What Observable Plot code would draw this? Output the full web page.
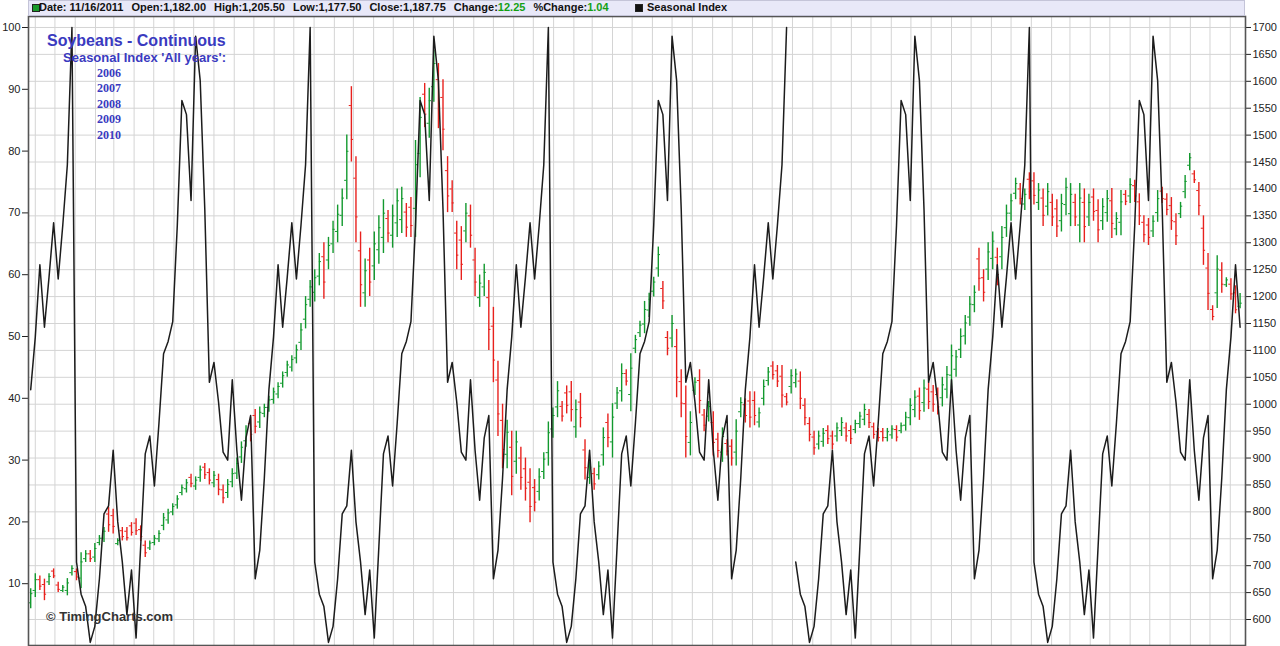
<!DOCTYPE html>
<html>
<head>
<meta charset="utf-8">
<script src="https://cdn.jsdelivr.net/npm/d3@7"></script>
<script src="https://cdn.jsdelivr.net/npm/@observablehq/plot@0.6"></script>
<style>
  body { margin: 0; background: #fff; }
  #wrap { position: relative; width: 1280px; height: 646px; overflow: hidden; font-family: "Liberation Sans", Arial, sans-serif; }
  #wrap svg { position: absolute; left: 0; top: 0; }
  #hdr { position: absolute; left: 28px; top: 0; width: 1217px; height: 16px; background: #e8e8f8; box-sizing: border-box; border: 1px solid #c4c4d8; z-index: 5; }
  #hline { position: absolute; left: 39px; top: 0; height: 15px; display: flex; z-index: 6; }
  #hline span.item { font-size: 11px; font-weight: bold; line-height: 15px; color: #111; white-space: pre; margin-right: 8px; }
  .h { position: absolute; top: 0; font-size: 11px; font-weight: bold; line-height: 15px; color: #111; white-space: pre; z-index: 6; }
  .sq { position: absolute; top: 4px; width: 6px; height: 6px; border: 1px solid #222; z-index: 6; }
  .t { position: absolute; white-space: pre; z-index: 6; }
</style>
</head>
<body>
<div id="wrap"></div>
<script>
// ---- Data (weekly bars, Soybeans continuous) ----
const lastBarDate = "2011-11-16";

const low = [
  620,641,654,635,663,676,650,650,644,681,
  672,657,706,706,706,737,743,762,759,737,
  746,746,755,756,745,715,728,737,743,765,
  777,793,805,830,835,845,840,855,860,850,
  845,830,815,825,845,860,890,920,930,945,
  955,975,985,1000,1010,1030,1050,1060,1075,1100,
  1140,1180,1190,1220,1195,1250,1280,1300,1330,1380,
  1450,1300,1180,1180,1200,1230,1260,1280,1300,1290,
  1310,1317,1310,1310,1310,1421,1514,1494,1561,1512,
  1471,1356,1356,1250,1230,1300,1290,1200,1180,1200,
  1100,1040,940,880,880,830,870,840,820,780,
  800,820,860,885,937,975,967,982,967,937,
  956,859,851,840,859,885,919,900,990,1004,
  1034,986,1094,1124,1131,1161,1199,1236,1176,1090,
  1105,1012,975,900,904,1016,982,949,967,904,
  900,892,904,885,885,975,965,956,960,956,
  997,1034,1045,1031,993,997,1019,1030,990,960,
  930,905,915,920,925,915,930,940,930,925,
  945,955,960,955,935,930,930,930,935,930,
  945,950,960,975,970,985,990,985,980,995,
  1010,1030,1050,1085,1110,1145,1170,1210,1190,1230,
  1250,1220,1250,1310,1340,1380,1370,1360,1380,1370,
  1360,1330,1350,1330,1310,1320,1350,1330,1330,1300,
  1300,1330,1340,1300,1323,1338,1308,1313,1313,1369,
  1373,1375,1332,1300,1295,1310,1338,1373,1350,1323,
  1295,1345,1382,1434,1410,1350,1258,1174,1155,1178,
  1206,1217,1193,1168,1177.5
];
const high = [
  657,685,681,675,685,694,669,663,676,700,
  694,724,728,728,741,756,771,808,805,750,
  771,771,780,787,774,746,746,756,765,797,
  805,815,830,850,860,870,865,885,890,880,
  875,870,850,860,880,900,930,960,975,990,
  995,1000,1015,1030,1040,1060,1080,1090,1110,1150,
  1200,1230,1250,1280,1300,1310,1340,1370,1400,1500,
  1590,1460,1320,1270,1290,1320,1350,1380,1360,1370,
  1400,1403,1373,1384,1490,1570,1596,1587,1657,1633,
  1603,1460,1415,1340,1330,1373,1370,1290,1240,1260,
  1230,1180,1080,1000,970,950,950,920,900,880,
  860,880,910,967,993,1042,1005,1034,1042,1008,
  1020,934,893,881,893,956,982,1001,1031,1075,
  1064,1094,1128,1154,1191,1206,1236,1292,1228,1135,
  1165,1139,1064,1034,986,1049,1064,990,1005,986,
  946,956,934,934,971,1012,1010,1023,1023,993,
  1045,1068,1079,1072,1072,1020,1064,1065,1060,1010,
  975,950,950,955,960,950,965,975,965,960,
  970,985,1000,990,965,955,955,955,960,960,
  965,985,1010,1025,1030,1045,1040,1035,1030,1050,
  1070,1110,1100,1140,1165,1200,1220,1290,1250,1300,
  1320,1290,1330,1370,1390,1420,1410,1400,1430,1430,
  1410,1400,1410,1390,1380,1390,1420,1410,1390,1410,
  1400,1390,1400,1380,1382,1397,1401,1356,1397,1397,
  1419,1416,1391,1350,1345,1350,1397,1403,1391,1384,
  1354,1375,1425,1466,1434,1412,1350,1280,1183,1276,
  1263,1235,1233,1220,1205.5
];
const open = [
  631,654,674,665,670,690,664,654,654,687,
  689,677,713,722,716,743,751,796,793,741,
  765,764,774,779,767,738,733,743,750,775,
  785,800,813,836,843,864,848,864,883,873,
  854,860,841,836,856,872,902,932,964,979,
  967,983,994,1009,1019,1039,1059,1069,1086,1115,
  1158,1195,1208,1238,1274,1268,1298,1321,1351,1416,
  1555,1420,1285,1207,1268,1257,1287,1310,1345,1314,
  1337,1343,1357,1366,1364,1466,1576,1522,1590,1603,
  1570,1434,1400,1318,1305,1322,1350,1268,1198,1218,
  1198,1145,1045,970,907,920,894,900,880,855,
  845,838,875,910,954,995,996,1021,1023,958,
  1004,915,864,871,869,906,966,930,1002,1025,
  1057,1018,1104,1133,1149,1175,1210,1253,1215,1124,
  1123,1107,1042,1001,929,1026,1044,980,978,966,
  935,911,927,922,911,986,999,1006,1007,967,
  1011,1044,1071,1062,1052,1014,1033,1040,1043,998,
  964,939,926,931,951,941,941,951,956,951,
  953,964,972,981,958,949,949,938,943,953,
  951,961,975,990,1015,1003,1028,1023,1018,1012,
  1028,1054,1065,1102,1127,1162,1185,1270,1235,1251,
  1271,1273,1274,1328,1355,1392,1400,1372,1418,1415,
  1375,1383,1368,1375,1363,1341,1371,1354,1375,1333,
  1375,1348,1385,1360,1341,1356,1378,1326,1338,1390,
  1387,1406,1376,1338,1333,1322,1356,1396,1381,1369,
  1339,1354,1395,1444,1428,1397,1327,1253,1176,1207,
  1249,1222,1223,1207,1182
];
const close = [
  648,674,662,647,680,681,656,660,668,695,
  679,707,722,713,732,751,764,776,773,747,
  754,752,762,765,754,724,742,751,760,789,
  798,810,824,845,854,853,859,878,869,859,
  868,842,826,851,871,890,920,950,944,959,
  985,994,1008,1023,1033,1053,1073,1083,1101,1138,
  1185,1218,1235,1265,1227,1295,1325,1353,1383,1470,
  1492,1348,1222,1248,1227,1298,1328,1355,1318,1350,
  1378,1382,1329,1332,1445,1533,1539,1564,1633,1548,
  1511,1387,1374,1277,1260,1355,1314,1227,1225,1245,
  1139,1082,982,916,948,866,930,864,844,810,
  818,865,898,947,979,1025,978,998,990,990,
  975,882,883,852,885,938,938,976,1021,1057,
  1043,1067,1120,1147,1176,1195,1227,1278,1192,1104,
  1150,1050,1002,940,966,1041,1007,961,996,929,
  914,940,913,900,950,1003,979,976,979,984,
  1033,1060,1055,1043,1017,1004,1053,1056,1011,975,
  944,919,941,946,936,926,956,966,941,936,
  964,978,990,966,944,938,938,949,954,939,
  960,976,998,1013,988,1030,1005,1000,995,1036,
  1055,1090,1088,1126,1151,1186,1208,1234,1208,1283,
  1303,1241,1310,1355,1378,1410,1382,1390,1395,1388,
  1398,1351,1395,1348,1331,1373,1403,1390,1348,1383,
  1330,1375,1358,1324,1367,1382,1336,1345,1376,1377,
  1408,1387,1350,1315,1310,1340,1382,1382,1362,1341,
  1313,1368,1414,1458,1417,1369,1286,1206,1163,1251,
  1223,1231,1205,1175.5,1187.75
];

// Seasonal index 'All years' (week 1..52 of the year)
const seasonalIndex = [
  13.5, 8.3, 6.3, 0.5, 3.1, 10.8, 21.3, 22.6, 31.6, 20,
  13.5, 5.0, 12.2, 1.2, 16, 31, 33.9, 25.8, 36, 47.2,
  49.2, 52.4, 68, 88.2, 85.9, 72, 98.6, 91.4, 70.6, 42.6,
  45.8, 39.4, 31.3, 30, 43, 31.6, 23.5, 33.6, 37.2, 10.8,
  15.4, 27.1, 41.4, 49.9, 61.6, 51.5, 59.6, 68.4, 59.3, 68,
  77.8, 100
];
// week-of-year of the seasonal index shown at each bar (null = no value, line gap)
const seasonWeekRuns = [[43, 52], [1, 52], [1, 52], [1, 52], null, [1, 52], [1, 46]];

const leftTicks = [10, 20, 30, 40, 50, 60, 70, 80, 90, 100];
const rightTicks = d3.range(600, 1701, 50);
const legendYears = ["2006", "2007", "2008", "2009", "2010"];
const chartTitle = "Soybeans - Continuous";
const chartSubtitle = "Seasonal Index 'All years':";
const credit = "\u00A9 TimingCharts.com";

// ---- Build tables ----
const DAY = 864e5;
const n = Math.min(low.length, high.length, open.length, close.length);
const endT = Date.parse(lastBarDate + "T00:00:00Z");
const bars = d3.range(n).map(i => ({
  date: new Date(endT - (n - 1 - i) * 7 * DAY),
  o: open[i], h: high[i], l: low[i], c: close[i]
}));
const weeks = [];
for (const r of seasonWeekRuns) {
  if (r === null) weeks.push(null);
  else for (let w = r[0]; w <= r[1]; w++) weeks.push(w);
}
const season = bars.map((b, i) => ({
  date: b.date,
  v: weeks[i] == null ? null : seasonalIndex[weeks[i] - 1]
}));

const xDomain = [new Date(Date.UTC(2006, 9, 21, 15)), new Date(Date.UTC(2011, 10, 24, 6))];
const months = d3.utcMonths(xDomain[0], xDomain[1]);
const GREEN = "#12992e", RED = "#e8211d";
const colorOf = d => (d.c >= d.o ? GREEN : RED);

const common = {
  width: 1280, height: 646,
  marginTop: 16, marginBottom: 1, marginLeft: 28, marginRight: 35
};

const pricePlot = Plot.plot({
  ...common,
  style: { background: "transparent", fontFamily: "Liberation Sans, Arial, sans-serif", fontSize: "11px", color: "#222" },
  x: { type: "utc", domain: xDomain, axis: null },
  y: { domain: [551.7, 1720.4], axis: "right", ticks: rightTicks, tickSize: 5, tickPadding: 2, tickFormat: d => String(d), label: null },
  marks: [
    Plot.ruleX(months, { stroke: "#d4d4d4", strokeWidth: 1 }),
    Plot.ruleY(rightTicks, { stroke: "#d4d4d4", strokeWidth: 1 }),
    Plot.ruleX(bars, { x: "date", y1: "l", y2: "h", stroke: colorOf, strokeWidth: 1.4 }),
    Plot.ruleY(bars, { y: "o", x1: d => new Date(+d.date - 3.3 * DAY), x2: "date", stroke: colorOf, strokeWidth: 1 }),
    Plot.ruleY(bars, { y: "c", x1: "date", x2: d => new Date(+d.date + 3.3 * DAY), stroke: colorOf, strokeWidth: 1 })
  ]
});

const indexPlot = Plot.plot({
  ...common,
  style: { background: "transparent", fontFamily: "Liberation Sans, Arial, sans-serif", fontSize: "11px", color: "#222" },
  x: { type: "utc", domain: xDomain, axis: null },
  y: { domain: [0, 101.78], axis: "left", ticks: leftTicks, tickSize: 6, tickPadding: 2, tickFormat: d => String(d), label: null },
  marks: [
    Plot.line(season, { x: "date", y: "v", stroke: "#1c1c1c", strokeWidth: 1.5 }),
    Plot.frame({ stroke: "#555", strokeWidth: 1.6 })
  ]
});

const wrap = document.getElementById("wrap");
wrap.appendChild(pricePlot);
wrap.appendChild(indexPlot);

// ---- Header bar ----
const fmt = d3.format(",.2f");
const L = n - 1;
const change = close[L] - close[L - 1];
const pct = change / close[L - 1] * 100;
const [yy, mm, dd] = lastBarDate.split("-");
const hdr = document.createElement("div");
hdr.id = "hdr";
wrap.appendChild(hdr);
function addSq(x, color) {
  const s = document.createElement("div");
  s.className = "sq";
  s.style.left = x + "px";
  s.style.background = color;
  wrap.appendChild(s);
}
addSq(32, "#1a9a2a");
const hline = document.createElement("div");
hline.id = "hline";
const green = v => `<span style="color:#14a014">${v}</span>`;
[
  `Date: ${mm}/${dd}/${yy}`,
  `Open:${fmt(open[L])}`,
  `High:${fmt(high[L])}`,
  `Low:${fmt(low[L])}`,
  `Close:${fmt(close[L])}`,
  `Change:${green(fmt(change))}`,
  `%Change:${green(fmt(pct))}`
].forEach(html => {
  const s = document.createElement("span");
  s.className = "item";
  s.innerHTML = html;
  hline.appendChild(s);
});
wrap.appendChild(hline);
addSq(635, "#111");
const si = document.createElement("div");
si.className = "h";
si.style.left = "647px";
si.textContent = "Seasonal Index";
wrap.appendChild(si);

// ---- Title block ----
function addText(x, y, text, style) {
  const s = document.createElement("div");
  s.className = "t";
  s.style.left = x + "px";
  s.style.top = y + "px";
  Object.assign(s.style, style);
  s.textContent = text;
  wrap.appendChild(s);
}
const blue = "#3a3abf";
addText(47, 33, chartTitle, { fontSize: "16px", fontWeight: "bold", lineHeight: "16px", color: blue });
addText(63, 51, chartSubtitle, { fontSize: "13px", fontWeight: "bold", lineHeight: "13px", color: blue });
legendYears.forEach((yr, k) => {
  addText(97, 67 + k * 15.4, yr, { fontSize: "12px", fontWeight: "bold", lineHeight: "12px", color: blue, fontFamily: "Liberation Serif, 'Times New Roman', serif" });
});
addText(46, 610, credit, { fontSize: "13px", fontWeight: "bold", lineHeight: "14px", color: "#333" });
</script>
</body>
</html>
